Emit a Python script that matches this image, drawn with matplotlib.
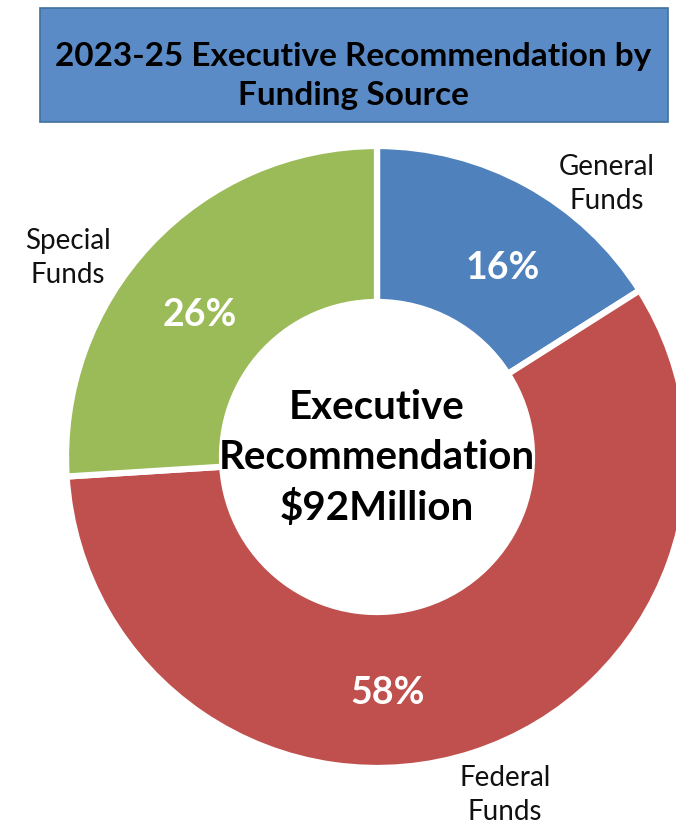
import matplotlib.pyplot as plt
from matplotlib.patches import Rectangle

# --- data ---
categories = ["General\nFunds", "Federal\nFunds", "Special\nFunds"]
shares = [16, 58, 26]
colors = ["#4F81BD", "#C0504D", "#9BBB59"]
title = "2023-25 Executive Recommendation by\nFunding Source"
center_text = "Executive\nRecommendation\n$92Million"

plt.rcParams['font.family'] = ['Lato', 'DejaVu Sans']

W, H = 676, 827
fig = plt.figure(figsize=(W / 100, H / 100), dpi=100)
ax = fig.add_axes([0, 0, 1, 1])

# title box
ax.add_patch(Rectangle((40, H - 122), 628, 114, facecolor="#5B8BC6",
                       edgecolor="#41719C", linewidth=1.2))
ax.text(353, H - 76, title, ha='center', va='center', fontsize=24,
        fontweight='bold', color='black', linespacing=1.4)

# donut
cx, cy, R = 377, H - 457, 311
wedges, _ = ax.pie(shares, colors=colors, startangle=90, counterclock=False,
                   radius=R, center=(cx, cy), frame=True,
                   wedgeprops=dict(width=R - 155, edgecolor='white', linewidth=4.5))
ax.set_xlim(0, W)
ax.set_ylim(0, H)
ax.set_aspect('equal')
ax.axis('off')

# percentage labels
pct_pos = [(503, H - 268), (388, H - 693), (200, H - 315)]
for (x, y), s in zip(pct_pos, shares):
    ax.text(x, y, f"{s}%", ha='center', va='center', fontsize=27,
            fontweight='bold', color='white')

# category labels
cat_pos = [(607, H - 184), (505, H - 795), (68, H - 258)]
for (x, y), c in zip(cat_pos, categories):
    ax.text(x, y, c, ha='center', va='center', fontsize=20, color='#111111',
            linespacing=1.37)

ax.text(cx, H - 458, center_text, ha='center', va='center', fontsize=29,
        fontweight='bold', color='black', linespacing=1.42)

fig.savefig("out.png", dpi=100)
